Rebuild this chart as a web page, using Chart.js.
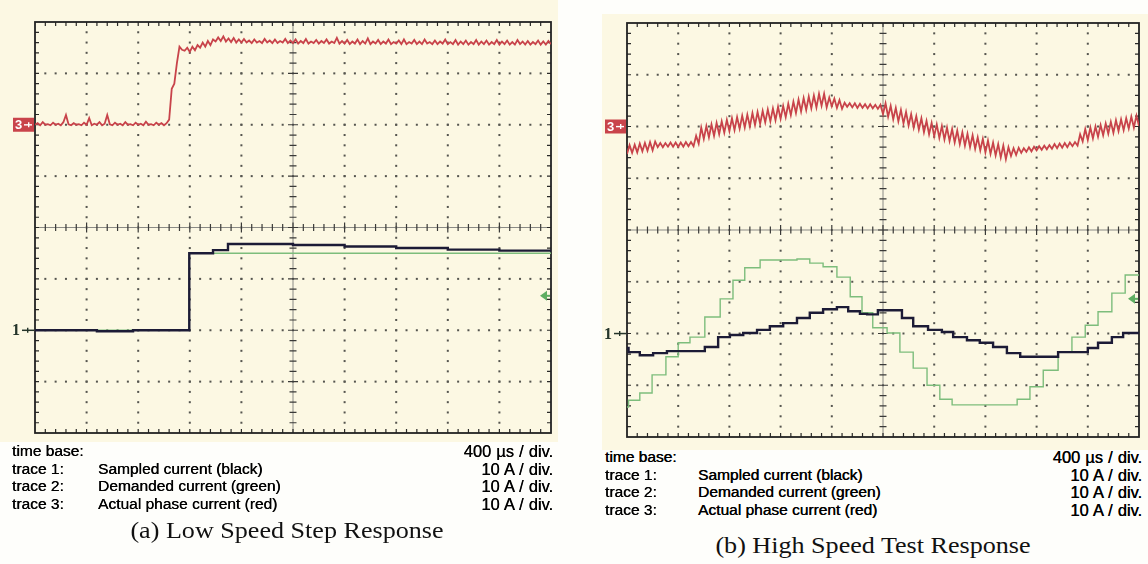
<!DOCTYPE html>
<html><head><meta charset="utf-8">
<script src="https://cdn.jsdelivr.net/npm/chart.js@4.4.0/dist/chart.umd.min.js"></script>
<style>
html,body{margin:0;padding:0;background:#fefefb;width:1148px;height:564px;overflow:hidden;position:relative;font-family:"Liberation Sans",Arial,sans-serif;}
.paper{position:absolute;background:#fcf8e3;}
canvas{position:absolute;top:0;}
.t{position:absolute;font-size:15.5px;color:#000;white-space:nowrap;line-height:18px;text-shadow:0.35px 0 0 #000;}
.t.sc{font-size:16.4px;word-spacing:0.6px;}
.cap{position:absolute;font-family:"Liberation Serif","Times New Roman",serif;font-size:22.5px;color:#111;white-space:nowrap;line-height:26px;}
</style></head><body>
<div class="paper" style="left:0;top:0;width:558px;height:442px"></div>
<div class="paper" style="left:602px;top:14px;width:546px;height:436px"></div>
<canvas id="cA" width="574" height="445" style="left:0"></canvas>
<canvas id="cB" width="574" height="445" style="left:574px"></canvas>
<div id="texts"></div>
<script>
// ---- data (all in scope divisions: x 0..10, y -4..4) ----
const sampleStep = 0.05; // red traces: one value per 0.05 div
const leftRed = [
2.00,2.03,1.99,2.05,2.00,2.01,1.99,2.04,2.00,2.02,
1.99,2.05,2.19,2.01,1.99,2.03,2.00,2.01,1.99,2.04,
2.00,2.13,1.99,2.02,2.00,2.05,1.99,2.02,2.19,2.01,
1.99,2.04,2.00,2.02,1.99,2.05,2.00,2.01,1.99,2.04,
2.00,2.02,1.99,2.06,2.00,2.01,1.99,2.04,2.00,2.03,
1.99,2.03,2.10,2.70,2.80,3.20,3.52,3.46,3.44,3.50,
3.42,3.52,3.45,3.55,3.50,3.60,3.52,3.63,3.55,3.66,
3.62,3.70,3.63,3.72,3.62,3.68,3.61,3.69,3.60,3.66,
3.60,3.67,3.60,3.64,3.59,3.66,3.60,3.63,3.59,3.67,
3.60,3.64,3.59,3.66,3.59,3.63,3.60,3.67,3.59,3.64,
3.59,3.66,3.58,3.63,3.59,3.67,3.58,3.62,3.59,3.65,
3.58,3.63,3.59,3.66,3.58,3.62,3.59,3.69,3.58,3.63,
3.58,3.65,3.57,3.62,3.58,3.66,3.57,3.63,3.58,3.68,
3.57,3.62,3.58,3.65,3.57,3.62,3.58,3.66,3.57,3.61,
3.58,3.64,3.57,3.66,3.57,3.61,3.58,3.65,3.57,3.62,
3.57,3.66,3.58,3.61,3.57,3.64,3.57,3.62,3.58,3.66,
3.57,3.61,3.57,3.65,3.56,3.62,3.57,3.64,3.56,3.61,
3.57,3.65,3.56,3.62,3.57,3.64,3.56,3.61,3.57,3.65,
3.56,3.62,3.57,3.64,3.56,3.61,3.56,3.65,3.57,3.62,
3.56,3.63,3.56,3.61,3.57,3.64,3.56,3.62,3.56,3.63,
3.57];
const leftBlack = [[0,-2.00],[1.2,-2.02],[1.9,-2.00],[2.99,-0.50],[3.45,-0.44],[3.74,-0.32],[5,-0.34],[6,-0.37],[7,-0.40],[8,-0.43],[9,-0.45],[10,-0.47]];
const leftGreen = [[0,-2.00],[2.99,-0.50],[10,-0.50]];

const rightRed = [
1.47,1.64,1.49,1.65,1.50,1.67,1.52,1.68,1.53,1.70,
1.54,1.71,1.60,1.68,1.60,1.68,1.61,1.69,1.61,1.69,
1.61,1.69,1.61,1.70,1.62,1.70,1.62,1.82,1.67,1.98,
1.76,2.01,1.79,2.04,1.82,2.07,1.85,2.10,1.88,2.13,
1.91,2.16,1.93,2.18,1.96,2.21,1.98,2.23,2.00,2.26,
2.03,2.28,2.05,2.30,2.08,2.33,2.10,2.35,2.12,2.38,
2.15,2.40,2.18,2.44,2.22,2.48,2.26,2.52,2.29,2.55,
2.32,2.58,2.35,2.60,2.37,2.63,2.40,2.63,2.37,2.56,
2.39,2.54,2.36,2.51,2.34,2.46,2.38,2.45,2.37,2.45,
2.36,2.44,2.36,2.43,2.35,2.43,2.35,2.42,2.34,2.42,
2.24,2.45,2.19,2.40,2.14,2.36,2.10,2.32,2.06,2.28,
2.02,2.24,1.98,2.20,1.94,2.16,1.89,2.11,1.85,2.07,
1.81,2.04,1.78,2.01,1.75,1.98,1.72,1.95,1.69,1.92,
1.66,1.89,1.63,1.86,1.60,1.83,1.57,1.79,1.54,1.76,
1.50,1.73,1.47,1.69,1.44,1.66,1.40,1.63,1.37,1.60,
1.43,1.58,1.45,1.59,1.49,1.58,1.51,1.60,1.52,1.61,
1.54,1.62,1.55,1.63,1.56,1.64,1.57,1.66,1.58,1.67,
1.59,1.68,1.60,1.69,1.62,1.70,1.63,1.85,1.71,1.95,
1.74,1.98,1.77,2.00,1.80,2.03,1.83,2.06,1.86,2.09,
1.88,2.12,1.91,2.14,1.93,2.16,1.96,2.19,1.98,2.21,
2.01];
const rightBlack = [[0,-2.28],[0.03,-2.36],[0.25,-2.42],[0.51,-2.38],[0.78,-2.34],[1.52,-2.26],[1.78,-2.07],[2.01,-2.03],[2.27,-1.99],[2.54,-1.93],[2.79,-1.86],[3.05,-1.80],[3.32,-1.70],[3.57,-1.60],[3.83,-1.53],[4.10,-1.49],[4.32,-1.57],[4.55,-1.62],[4.69,-1.63],[4.90,-1.55],[5.37,-1.70],[5.59,-1.86],[5.88,-1.93],[6.15,-1.97],[6.37,-2.07],[6.64,-2.13],[6.89,-2.18],[7.15,-2.26],[7.42,-2.38],[7.68,-2.45],[8.42,-2.36],[9.00,-2.28],[9.20,-2.18],[9.47,-2.07],[9.69,-1.99],[10,-1.97]];
const rightGreen = [[0,-3.42],[0.03,-3.29],[0.25,-3.15],[0.49,-2.80],[0.76,-2.45],[1.00,-2.18],[1.23,-2.07],[1.52,-1.68],[1.82,-1.33],[2.07,-0.97],[2.30,-0.73],[2.60,-0.58],[3.32,-0.56],[3.57,-0.64],[3.83,-0.71],[4.10,-0.91],[4.36,-1.29],[4.59,-1.60],[4.80,-1.89],[5.08,-1.99],[5.33,-2.36],[5.59,-2.67],[5.86,-3.00],[6.11,-3.27],[6.35,-3.38],[7.62,-3.27],[7.87,-3.03],[8.13,-2.71],[8.42,-2.36],[8.69,-2.07],[8.95,-1.84],[9.20,-1.58],[9.47,-1.22],[9.73,-0.87],[10,-0.87]];

// trace reference levels (ground markers)
const groundRed = 2, groundBlack = -2, groundGreen = -1.33;

// legend text
const rowLabels = ['time base:', 'trace 1:', 'trace 2:', 'trace 3:'];
const rowDescs = ['', 'Sampled current (black)', 'Demanded current (green)', 'Actual phase current (red)'];
const rowScales = ['400 \u00b5s / div.', '10 A / div.', '10 A / div.', '10 A / div.'];
const captions = ['(a) Low Speed Step Response', '(b) High Speed Test Response'];

// ---- scope graticule plugin ----
const scopeGrid = {
  id: 'scopeGrid',
  beforeDatasetsDraw(chart) {
    const {ctx, chartArea: a, scales: {x, y}} = chart;
    ctx.save();
    ctx.fillStyle = '#55554f';
    for (let i = 1; i < 10; i++) {
      if (i === 5) continue;
      const px = x.getPixelForValue(i);
      for (let k = 1; k < 40; k++) {
        const py = y.getPixelForValue(-4 + k / 5);
        ctx.fillRect(px - 1, py - 1, 2, 2);
      }
    }
    for (let j = -3; j <= 3; j++) {
      if (j === 0) continue;
      const py = y.getPixelForValue(j);
      for (let k = 1; k < 50; k++) {
        const px = x.getPixelForValue(k / 5);
        ctx.fillRect(px - 1, py - 1, 2, 2);
      }
    }
    const cx = x.getPixelForValue(5), cy = y.getPixelForValue(0);
    ctx.strokeStyle = '#8a8a85';
    ctx.lineWidth = 1;
    ctx.beginPath();
    ctx.moveTo(a.left, cy); ctx.lineTo(a.right, cy);
    ctx.moveTo(cx, a.top); ctx.lineTo(cx, a.bottom);
    ctx.stroke();
    ctx.strokeStyle = '#3a3a38';
    ctx.lineWidth = 1.2;
    ctx.beginPath();
    for (let k = 1; k < 50; k++) {
      const px = x.getPixelForValue(k / 5);
      const len = (k % 5 === 0) ? 5 : 3.5;
      ctx.moveTo(px, cy - len); ctx.lineTo(px, cy + len);
    }
    for (let k = 1; k < 40; k++) {
      const py = y.getPixelForValue(-4 + k / 5);
      const len = (k % 5 === 0) ? 5 : 3.5;
      ctx.moveTo(cx - len, py); ctx.lineTo(cx + len, py);
    }
    ctx.stroke();
    ctx.strokeStyle = '#2a2a28';
    ctx.lineWidth = 1.2;
    ctx.beginPath();
    for (let k = 1; k < 50; k++) {
      const px = x.getPixelForValue(k / 5);
      ctx.moveTo(px, a.top); ctx.lineTo(px, a.top + 4);
      ctx.moveTo(px, a.bottom); ctx.lineTo(px, a.bottom - 4);
    }
    for (let k = 1; k < 40; k++) {
      const py = y.getPixelForValue(-4 + k / 5);
      ctx.moveTo(a.left, py); ctx.lineTo(a.left + 4, py);
      ctx.moveTo(a.right, py); ctx.lineTo(a.right - 4, py);
    }
    ctx.stroke();
    ctx.lineWidth = 1.8;
    ctx.strokeStyle = '#222';
    ctx.strokeRect(a.left, a.top, a.right - a.left, a.bottom - a.top);
    ctx.restore();
  },
  afterDraw(chart) {
    const {ctx, chartArea: a, scales: {y}} = chart;
    ctx.save();
    const yr = y.getPixelForValue(groundRed);
    ctx.fillStyle = '#c9444b';
    ctx.fillRect(a.left - 22, yr - 7, 21, 14);
    ctx.fillStyle = '#fff';
    ctx.font = 'bold 13px "Liberation Sans", Arial, sans-serif';
    ctx.textBaseline = 'middle';
    ctx.textAlign = 'left';
    ctx.fillText('3', a.left - 20, yr + 0.5);
    ctx.fillRect(a.left - 11, yr - 0.6, 8, 1.4);
    ctx.fillRect(a.left - 7, yr - 2.5, 1.4, 5);
    const yb = y.getPixelForValue(groundBlack);
    ctx.fillStyle = '#25352a';
    ctx.font = 'bold 16px "Liberation Serif", serif';
    ctx.fillText('1', a.left - 23, yb + 1);
    ctx.fillRect(a.left - 13, yb - 0.7, 12, 1.5);
    ctx.fillRect(a.left - 8, yb - 2.5, 1.4, 5);
    const yg = y.getPixelForValue(groundGreen);
    ctx.fillStyle = '#5fae62';
    ctx.beginPath();
    ctx.moveTo(a.right - 11, yg);
    ctx.lineTo(a.right - 4, yg - 5);
    ctx.lineTo(a.right - 4, yg + 5);
    ctx.closePath();
    ctx.fill();
    ctx.fillRect(a.right - 5, yg - 1, 4, 2);
    ctx.restore();
  }
};

function makeChart(id, red, black, green, pad) {
  const toPts = arr => arr.map(p => ({x: p[0], y: p[1]}));
  return new Chart(document.getElementById(id), {
    type: 'line',
    data: {
      datasets: [
        {data: toPts(black), stepped: true, borderColor: '#1c1b36', borderWidth: 2.4, pointRadius: 0},
        {data: toPts(green), stepped: true, borderColor: '#7dbd7c', borderWidth: 1.4, pointRadius: 0},
        {data: red.map((v, i) => ({x: i * sampleStep, y: v})), borderColor: '#c8434a', borderWidth: 1.8, pointRadius: 0, tension: 0}
      ]
    },
    options: {
      responsive: false, animation: false, events: [],
      layout: {padding: pad},
      scales: {
        x: {type: 'linear', min: 0, max: 10, display: false},
        y: {type: 'linear', min: -4, max: 4, display: false}
      },
      plugins: {legend: {display: false}, tooltip: {enabled: false}}
    },
    plugins: [scopeGrid]
  });
}
makeChart('cA', leftRed, leftBlack, leftGreen, {left: 35, top: 22, right: 23, bottom: 12});
makeChart('cB', rightRed, rightBlack, rightGreen, {left: 53, top: 23, right: 9, bottom: 8});

// ---- text blocks ----
const host = document.getElementById('texts');
function addText(cls, txt, left, top, origin, transform) {
  const d = document.createElement('div');
  d.className = cls; d.textContent = txt;
  d.style.left = left + 'px'; d.style.top = top + 'px';
  d.style.transformOrigin = origin; d.style.transform = transform;
  host.appendChild(d);
  return d;
}
const blocks = [
  {label: 12, desc: 98, right: 553, top: 442, step: 17.6, cx: 287, cy: 531},
  {label: 605, desc: 698, right: 1142, top: 448, step: 17.6, cx: 873, cy: 546}
];
blocks.forEach((b, bi) => {
  rowLabels.forEach((lab, r) => {
    const top = b.top + r * b.step;
    addText('t', lab, b.label, top, 'left center', 'none');
    if (rowDescs[r]) addText('t', rowDescs[r], b.desc, top, 'left center', 'none');
    const s = addText('t sc', rowScales[r], 0, top, 'right center', 'none');
    s.style.left = 'auto'; s.style.right = (1148 - b.right) + 'px';
  });
  addText('cap', captions[bi], b.cx, b.cy - 13, 'center center', 'translateX(-50%) scaleX(1.16)');
});
</script>
</body></html>
